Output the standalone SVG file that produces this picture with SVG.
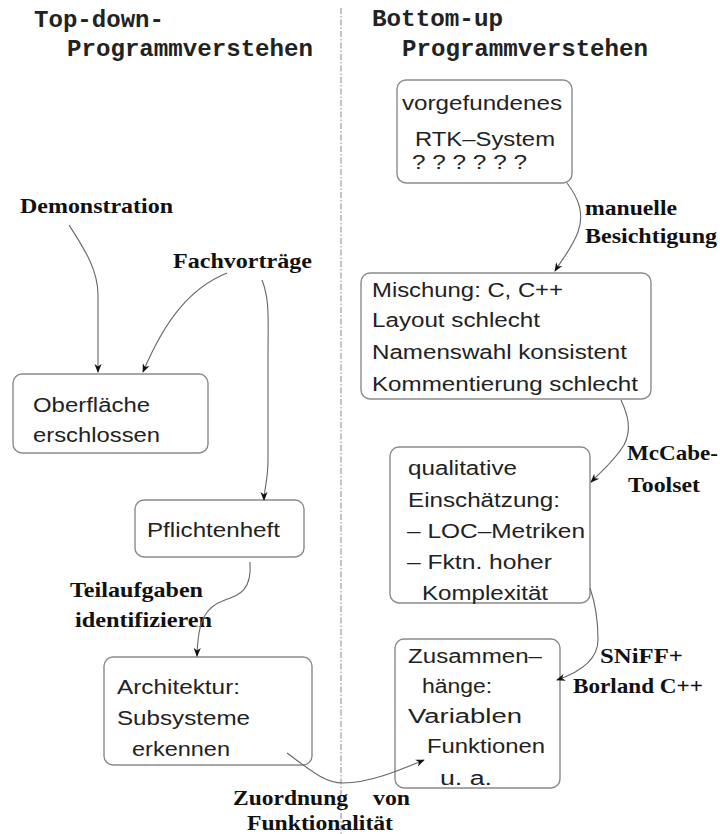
<svg xmlns="http://www.w3.org/2000/svg" width="720" height="834" viewBox="0 0 720 834">
<style>
.box{fill:#fff;stroke:#8a8a8a;stroke-width:1.4}
.t{font-family:"Liberation Sans",Arial,sans-serif;font-size:20px;fill:#222}
.l{font-family:"Liberation Serif","Times New Roman",serif;font-size:21px;font-weight:bold;fill:#111}
.h{font-family:"Liberation Mono","Courier New",monospace;font-size:24px;font-weight:bold;fill:#222}
.c{fill:none;stroke:#666;stroke-width:1.1}
</style>
<defs>
<marker id="ah" viewBox="0 0 10 10" refX="9" refY="5" markerWidth="9" markerHeight="9" markerUnits="userSpaceOnUse" orient="auto">
<path d="M0,1 L10,5 L0,9 L3,5 Z" fill="#111"/>
</marker>
</defs>
<rect width="720" height="834" fill="#fff"/>
<line x1="341" y1="8" x2="341" y2="834" stroke="#888" stroke-width="1" stroke-dasharray="6 2 1.5 2"/>
<g id="titles">
<text class="h" x="34" y="27" textLength="130" lengthAdjust="spacingAndGlyphs">Top-down-</text>
<text class="h" x="67" y="56" textLength="246" lengthAdjust="spacingAndGlyphs">Programmverstehen</text>
<text class="h" x="372" y="26" textLength="131" lengthAdjust="spacingAndGlyphs">Bottom-up</text>
<text class="h" x="402" y="56" textLength="246" lengthAdjust="spacingAndGlyphs">Programmverstehen</text>
</g>
<g id="labels">
<text class="l" x="20" y="213" textLength="153" lengthAdjust="spacingAndGlyphs">Demonstration</text>
<text class="l" x="173" y="268" textLength="139" lengthAdjust="spacingAndGlyphs">Fachvorträge</text>
<text class="l" x="585" y="215" textLength="92" lengthAdjust="spacingAndGlyphs">manuelle</text>
<text class="l" x="585" y="243" textLength="132" lengthAdjust="spacingAndGlyphs">Besichtigung</text>
<text class="l" x="627" y="460" textLength="91" lengthAdjust="spacingAndGlyphs">McCabe-</text>
<text class="l" x="628" y="492" textLength="72" lengthAdjust="spacingAndGlyphs">Toolset</text>
<text class="l" x="600" y="663" textLength="83" lengthAdjust="spacingAndGlyphs">SNiFF+</text>
<text class="l" x="573" y="693" textLength="130" lengthAdjust="spacingAndGlyphs">Borland C++</text>
<text class="l" x="70" y="597" textLength="133" lengthAdjust="spacingAndGlyphs">Teilaufgaben</text>
<text class="l" x="75" y="627" textLength="137" lengthAdjust="spacingAndGlyphs">identifizieren</text>
<text class="l" y="805"><tspan x="233" textLength="115" lengthAdjust="spacingAndGlyphs">Zuordnung</tspan><tspan x="373" textLength="37" lengthAdjust="spacingAndGlyphs">von</tspan></text>
<text class="l" x="247" y="830" textLength="146" lengthAdjust="spacingAndGlyphs">Funktionalität</text>
</g>
<g id="n-vorgefunden">
<rect class="box" x="397" y="80" width="175" height="103" rx="9"/>
<text class="t" x="402" y="110" textLength="160" lengthAdjust="spacingAndGlyphs">vorgefundenes</text>
<text class="t" x="415" y="146" textLength="140" lengthAdjust="spacingAndGlyphs">RTK–System</text>
<text class="t" x="412" y="169" textLength="115" lengthAdjust="spacingAndGlyphs">? ? ? ? ? ?</text>
</g>
<g id="n-mischung">
<rect class="box" x="361" y="273" width="290" height="126" rx="9"/>
<text class="t" x="372" y="297" textLength="191" lengthAdjust="spacingAndGlyphs">Mischung: C, C++</text>
<text class="t" x="372" y="327" textLength="168" lengthAdjust="spacingAndGlyphs">Layout schlecht</text>
<text class="t" x="372" y="359" textLength="255" lengthAdjust="spacingAndGlyphs">Namenswahl konsistent</text>
<text class="t" x="372" y="391" textLength="266" lengthAdjust="spacingAndGlyphs">Kommentierung schlecht</text>
</g>
<g id="n-qualitativ">
<rect class="box" x="390" y="447" width="200" height="156" rx="9"/>
<text class="t" x="408" y="475" textLength="109" lengthAdjust="spacingAndGlyphs">qualitative</text>
<text class="t" x="408" y="507" textLength="152" lengthAdjust="spacingAndGlyphs">Einschätzung:</text>
<text class="t" x="407" y="538" textLength="178" lengthAdjust="spacingAndGlyphs">– LOC–Metriken</text>
<text class="t" x="407" y="569" textLength="145" lengthAdjust="spacingAndGlyphs">– Fktn. hoher</text>
<text class="t" x="422" y="600" textLength="126" lengthAdjust="spacingAndGlyphs">Komplexität</text>
</g>
<g id="n-zusammen">
<rect class="box" x="395" y="639" width="165" height="149" rx="9"/>
<text class="t" x="408" y="663" textLength="134" lengthAdjust="spacingAndGlyphs">Zusammen–</text>
<text class="t" x="422" y="693" textLength="70" lengthAdjust="spacingAndGlyphs">hänge:</text>
<text class="t" x="408" y="723" textLength="114" lengthAdjust="spacingAndGlyphs">Variablen</text>
<text class="t" x="427" y="753" textLength="118" lengthAdjust="spacingAndGlyphs">Funktionen</text>
<text class="t" x="440" y="785" textLength="52" lengthAdjust="spacingAndGlyphs">u.  a.</text>
</g>
<g id="n-oberflaeche">
<rect class="box" x="13" y="374" width="195" height="79" rx="9"/>
<text class="t" x="33" y="412" textLength="117" lengthAdjust="spacingAndGlyphs">Oberfläche</text>
<text class="t" x="33" y="442" textLength="127" lengthAdjust="spacingAndGlyphs">erschlossen</text>
</g>
<g id="n-pflichtenheft">
<rect class="box" x="135" y="500" width="169" height="57" rx="9"/>
<text class="t" x="147" y="537" textLength="133" lengthAdjust="spacingAndGlyphs">Pflichtenheft</text>
</g>
<g id="n-architektur">
<rect class="box" x="104" y="657" width="208" height="108" rx="9"/>
<text class="t" x="117" y="694" textLength="123" lengthAdjust="spacingAndGlyphs">Architektur:</text>
<text class="t" x="117" y="725" textLength="133" lengthAdjust="spacingAndGlyphs">Subsysteme</text>
<text class="t" x="132" y="756" textLength="98" lengthAdjust="spacingAndGlyphs">erkennen</text>
</g>
<g id="connectors">
<path class="c" d="M69,225 C85,250 98,270 98,295 L98,372" marker-end="url(#ah)"/>
<path class="c" d="M227,273 C190,288 165,320 143,372" marker-end="url(#ah)"/>
<path class="c" d="M262,280 C270,300 268,320 268,360 L268,460 C268,480 264,490 264,500" marker-end="url(#ah)"/>
<path class="c" d="M250,562 C252,590 240,595 225,600 C205,607 198,620 197,656" marker-end="url(#ah)"/>
<path class="c" d="M567,183 C580,200 584,215 578,232 C572,248 563,258 555,271" marker-end="url(#ah)"/>
<path class="c" d="M621,400 C628,415 632,430 624,445 C615,460 603,470 591,482" marker-end="url(#ah)"/>
<path class="c" d="M590,588 C596,605 598,625 598,640 C598,660 580,672 557,680" marker-end="url(#ah)"/>
<path class="c" d="M287,753 C310,770 325,783 343,783 C370,783 400,770 424,760" marker-end="url(#ah)"/>
</g>
</svg>
